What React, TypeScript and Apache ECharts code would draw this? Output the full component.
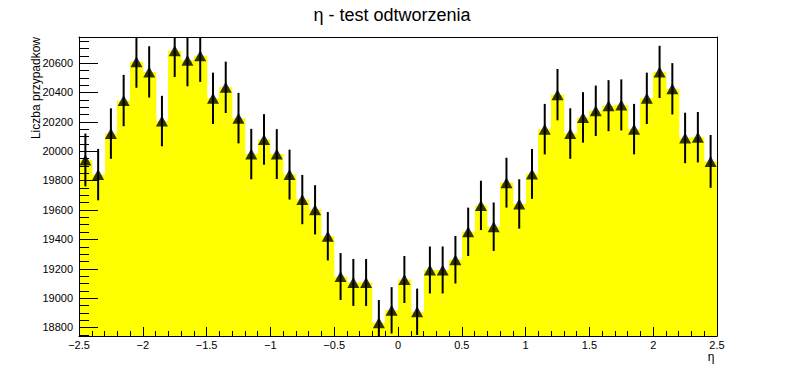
import React, { useEffect, useRef } from "react";
import * as echarts from "echarts";

const X_MIN = -2.5;
const X_MAX = 2.5;
const BIN_WIDTH = 0.1;
const Y_MIN = 18740;
const Y_MAX = 20778;

const counts = [
  19940, 19840, 20120, 20345, 20610, 20540, 20205, 20685, 20620, 20650,
  20360, 20435, 20225, 19980, 20080, 19980, 19840, 19670, 19600, 19420,
  19145, 19105, 19105, 18830, 18915, 19125, 18905, 19190, 19190, 19260,
  19450, 19630, 19485, 19785, 19640, 19845, 20150, 20385, 20120, 20230,
  20275, 20310, 20315, 20150, 20360, 20540, 20425, 20090, 20095, 19930,
];

const errors = [
  180, 175, 172, 175, 178, 175, 172, 180, 178, 178,
  175, 175, 172, 172, 172, 170, 170, 168, 168, 165,
  160, 160, 160, 155, 158, 160, 158, 160, 160, 162,
  165, 168, 165, 170, 168, 170, 172, 175, 172, 172,
  172, 174, 174, 172, 175, 178, 175, 172, 172, 180,
];

const yMajorTicks = [18800, 19000, 19200, 19400, 19600, 19800, 20000, 20200, 20400, 20600];
const Y_MINOR_STEP = 50;

const FONT = "Liberation Sans";

const binCenters = counts.map((_, i) => +(X_MIN + BIN_WIDTH * (i + 0.5)).toFixed(2));

export default function App() {
  const ref = useRef<HTMLDivElement>(null);

  useEffect(() => {
    document.body.style.margin = "0";
    if (!ref.current) return;
    const chart = echarts.init(ref.current, null, { renderer: "svg" });

    const yMinorTicks: number[] = [];
    for (let t = Math.ceil(Y_MIN / Y_MINOR_STEP) * Y_MINOR_STEP; t <= Y_MAX; t += Y_MINOR_STEP) {
      if (t % 200 !== 0) yMinorTicks.push(t);
    }

    const frameLine = { show: true, onZero: false, lineStyle: { color: "#000", width: 1 } };

    const option: any = {
      animation: false,
      grid: { left: 79, right: 79, top: 37, bottom: 38, containLabel: false },
      xAxis: [
        {
          type: "value",
          min: X_MIN,
          max: X_MAX,
          interval: 0.5,
          position: "bottom",
          z: 5,
          axisLine: frameLine,
          axisTick: { show: true, inside: true, length: 9, lineStyle: { color: "#000", width: 1 } },
          minorTick: { show: true, splitNumber: 5, length: 5, lineStyle: { color: "#000", width: 1 } },
          splitLine: { show: false },
          minorSplitLine: { show: false },
          axisLabel: {
            margin: 3,
            fontSize: 11,
            fontFamily: FONT,
            color: "#000",
            formatter: (v: number) => (v === 0 ? "0" : String(v).replace("-", "\u2212")),
          },
        },
        {
          type: "value",
          min: X_MIN,
          max: X_MAX,
          position: "top",
          z: 5,
          axisLine: frameLine,
          axisTick: { show: false },
          axisLabel: { show: false },
          splitLine: { show: false },
        },
      ],
      yAxis: [
        {
          type: "value",
          min: Y_MIN,
          max: Y_MAX,
          position: "left",
          z: 5,
          axisLine: frameLine,
          axisTick: { show: false },
          axisLabel: { show: false },
          splitLine: { show: false },
        },
        {
          type: "value",
          min: Y_MIN,
          max: Y_MAX,
          position: "right",
          z: 5,
          axisLine: frameLine,
          axisTick: { show: false },
          axisLabel: { show: false },
          splitLine: { show: false },
        },
      ],
      graphic: [
        {
          type: "text",
          x: 392,
          y: 15,
          style: {
            text: "\u03b7 - test odtworzenia",
            fontSize: 18,
            fontFamily: FONT,
            fill: "#000",
            align: "center",
            verticalAlign: "middle",
          },
        },
        {
          type: "text",
          x: 36,
          y: 37,
          rotation: Math.PI / 2,
          style: {
            text: "Liczba przypadkow",
            fontSize: 12,
            fontFamily: FONT,
            fill: "#000",
            align: "right",
            verticalAlign: "middle",
          },
        },
        {
          type: "text",
          x: 711,
          y: 357,
          style: {
            text: "\u03b7",
            fontSize: 12,
            fontFamily: FONT,
            fill: "#000",
            align: "center",
            verticalAlign: "middle",
          },
        },
      ],
      series: [
        {
          name: "hist",
          type: "custom",
          z: 1,
          data: counts.map((c, i) => [binCenters[i], c]),
          renderItem: (params: any, api: any) => {
            const x = api.value(0);
            const v = api.value(1);
            const lo = api.coord([x - BIN_WIDTH / 2, Y_MIN]);
            const hi = api.coord([x + BIN_WIDTH / 2, v]);
            const x0 = Math.round(lo[0]);
            const x1 = Math.round(hi[0]);
            return {
              type: "rect",
              shape: { x: x0, y: hi[1], width: x1 - x0 + 0.3, height: lo[1] - hi[1] },
              style: { fill: "#ffff00", stroke: null },
            };
          },
        },
        {
          name: "errors",
          type: "custom",
          z: 3,
          data: counts.map((c, i) => [binCenters[i], c, errors[i]]),
          renderItem: (params: any, api: any) => {
            const x = api.value(0);
            const v = api.value(1);
            const e = api.value(2);
            const top = api.coord([x, Math.min(v + e, Y_MAX)]);
            const bot = api.coord([x, Math.max(v - e, Y_MIN)]);
            return {
              type: "line",
              shape: { x1: top[0], y1: top[1], x2: bot[0], y2: bot[1] },
              style: { stroke: "#000", lineWidth: 2 },
            };
          },
        },
        {
          name: "markers",
          type: "scatter",
          z: 4,
          symbol: "triangle",
          symbolSize: [12, 11],
          itemStyle: { color: "#000" },
          data: counts.map((c, i) => [binCenters[i], c]),
        },
        {
          name: "yaxis",
          type: "custom",
          z: 6,
          silent: true,
          data: [[X_MIN, Y_MIN]],
          renderItem: (params: any, api: any) => {
            const children: any[] = [];
            for (const t of yMinorTicks) {
              const p = api.coord([X_MIN, t]);
              const y = Math.round(p[1]) + 0.5;
              children.push({
                type: "line",
                shape: { x1: p[0], y1: y, x2: p[0] + 10, y2: y },
                style: { stroke: "#000", lineWidth: 1 },
              });
            }
            for (const t of yMajorTicks) {
              const p = api.coord([X_MIN, t]);
              const y = Math.round(p[1]) + 0.5;
              children.push({
                type: "line",
                shape: { x1: p[0], y1: y, x2: p[0] + 19, y2: y },
                style: { stroke: "#000", lineWidth: 1 },
              });
              children.push({
                type: "text",
                x: p[0] - 6,
                y: p[1],
                style: {
                  text: String(t),
                  fontSize: 11,
                  fontFamily: FONT,
                  fill: "#000",
                  align: "right",
                  verticalAlign: "middle",
                },
              });
            }
            return { type: "group", children };
          },
        },
      ],
    };

    chart.setOption(option);
    return () => chart.dispose();
  }, []);

  return <div ref={ref} style={{ width: 796, height: 374 }} />;
}
